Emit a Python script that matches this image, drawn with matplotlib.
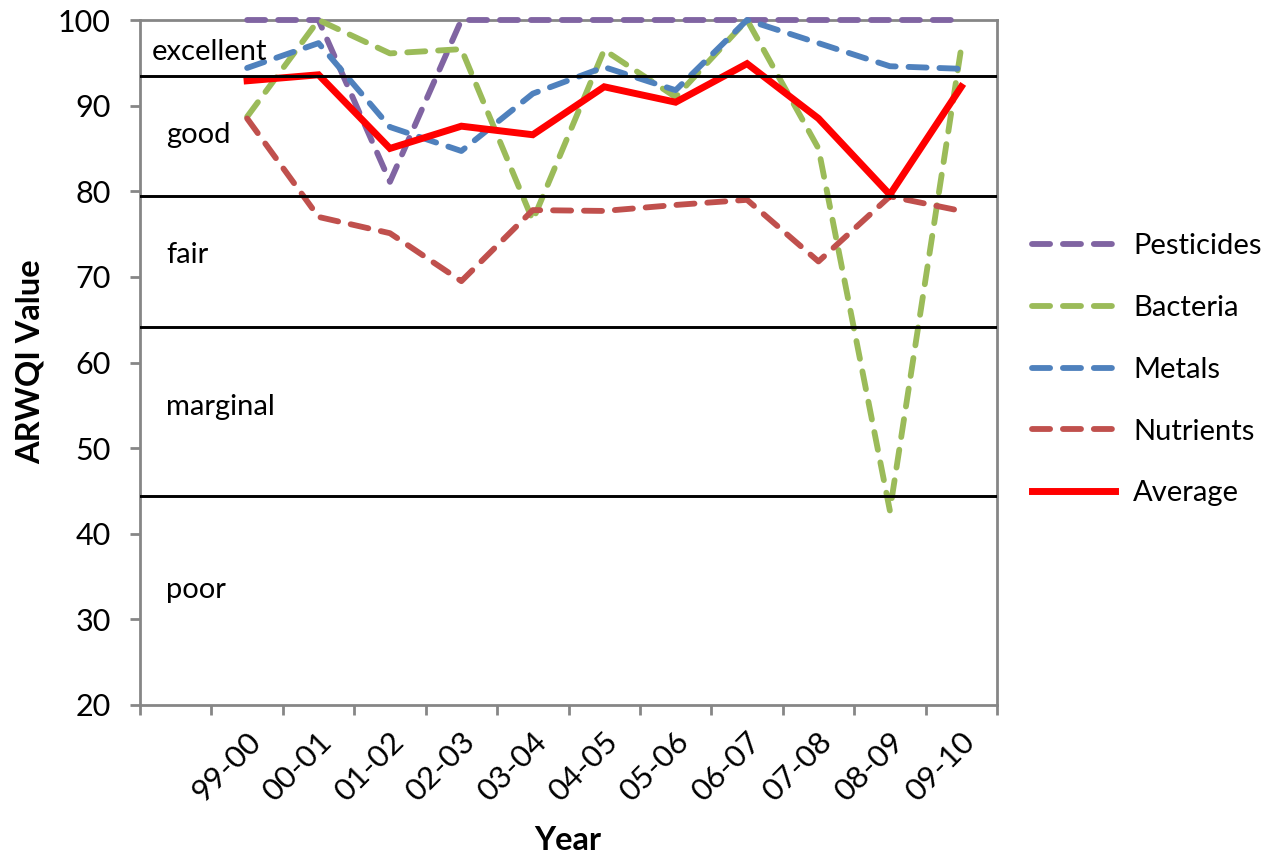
import numpy as np
import matplotlib
matplotlib.use("Agg")
import matplotlib.pyplot as plt
from matplotlib.transforms import ScaledTranslation

plt.rcParams["font.family"] = ["Lato", "DejaVu Sans"]

# Water-year categories (the first slot on the axis is left blank)
years = ["99-00", "00-01", "01-02", "02-03", "03-04", "04-05",
         "05-06", "06-07", "07-08", "08-09", "09-10"]

pesticides = [100, 100, 81.1, 100, 100, 100, 100, 100, 100, 100, 100]
bacteria = [88.7, 100, 96.1, 96.6, 76.6, 96.5, 91.0, 100, 85.0, 42.7, 96.8]
metals = [94.4, 97.3, 87.5, 84.7, 91.4, 94.5, 91.8, 100, 97.3, 94.6, 94.3]
nutrients = [88.5, 77.0, 75.1, 69.5, 77.8, 77.7, 78.4, 79.0, 71.8, 79.4, 77.7]
average = [92.9, 93.6, 85.0, 87.6, 86.6, 92.2, 90.4, 94.9, 88.5, 79.6, 92.2]

# Index class boundaries and class names
class_limits = [93.5, 79.4, 64.1, 44.4]
class_names = ["excellent", "good", "fair", "marginal", "poor"]
class_label_y = [96.3, 86.6, 72.6, 54.8, 33.4]
class_label_x = [-0.33, -0.13, -0.13, -0.13, -0.13]

series = [
    ("Pesticides", pesticides, "#8064A2"),
    ("Bacteria", bacteria, "#9BBB59"),
    ("Metals", metals, "#4F81BD"),
    ("Nutrients", nutrients, "#C0504D"),
]

W, H = 1273, 857
fig = plt.figure(figsize=(W / 100, H / 100), dpi=100)
ax = fig.add_axes([140 / W, 1 - 705 / H, (997 - 140) / W, (705 - 20) / H])

x = np.arange(1, len(years) + 1)
grey = "#868686"

for name, vals, col in series:
    ax.plot(x, vals, color=col, lw=4.2, linestyle=(0, (3.1, 2.2)),
            dash_capstyle="round", solid_capstyle="round", label=name,
            clip_on=False, zorder=3)
ax.plot(x, average, color="#FF0000", lw=5, label="Average",
        solid_joinstyle="miter", clip_on=False, zorder=4)

for yv in class_limits:
    ax.axhline(yv, color="black", lw=2.1, zorder=5)

for name, tx, ty in zip(class_names, class_label_x, class_label_y):
    ax.text(tx, ty, name, fontsize=21, va="center", ha="left", zorder=6)

ax.set_xlim(-0.5, len(years) + 0.5)
ax.set_ylim(20, 100)
ax.set_yticks(np.arange(20, 101, 10))
ax.set_xticks(x)
ax.set_xticklabels(years, rotation=45, ha="right", va="center",
                   rotation_mode="anchor", fontsize=22.5)
ax.set_xticks(np.arange(-0.5, len(years) + 1, 1), minor=True)
ax.tick_params(axis="x", which="major", length=0, pad=23)
ax.tick_params(axis="x", which="minor", length=7.2, width=2,
               color=grey, direction="out")
ax.tick_params(axis="y", length=7.2, width=2, color=grey, direction="out",
               labelsize=22, pad=14)

shift = ScaledTranslation(9 / 100, 0, fig.dpi_scale_trans)
for lab in ax.get_xticklabels():
    lab.set_transform(lab.get_transform() + shift)

for sp in ax.spines.values():
    sp.set_color(grey)
    sp.set_linewidth(2)

fig.text(30 / W, 1 - 362 / H, "ARWQI Value", rotation=90, fontsize=23.5,
         fontweight="bold", ha="center", va="center")
fig.text(568 / W, 1 - 841 / H, "Year", fontsize=23.5, fontweight="bold",
         ha="center", va="center")

leg = ax.legend(loc="upper left", bbox_to_anchor=(1032 / W, 1 - 233 / H),
                bbox_transform=fig.transFigure, frameon=False, fontsize=21,
                handlelength=2.84, handletextpad=0.62, labelspacing=1.23,
                borderaxespad=0, borderpad=0)

fig.savefig("out.png", dpi=100)
